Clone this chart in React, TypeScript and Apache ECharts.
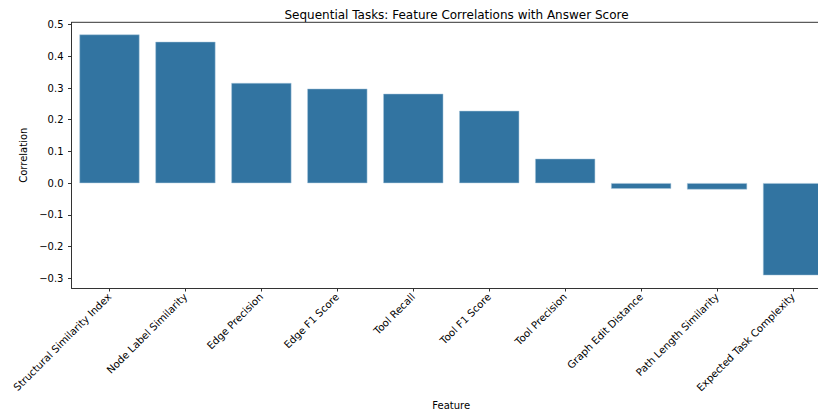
import React, { useEffect, useRef } from "react";
import * as echarts from "echarts";

const features = [
  "Structural Similarity Index",
  "Node Label Similarity",
  "Edge Precision",
  "Edge F1 Score",
  "Tool Recall",
  "Tool F1 Score",
  "Tool Precision",
  "Graph Edit Distance",
  "Path Length Similarity",
  "Expected Task Complexity",
];
const correlations = [0.469, 0.446, 0.316, 0.298, 0.282, 0.228, 0.077, -0.018, -0.02, -0.291];
const yMin = -0.331;
const yMax = 0.5075;

const FONT = "DejaVu Sans";
const fmt = (v: number) => (v < 0 ? "\u2212" : "") + Math.abs(v).toFixed(1);

export default function App() {
  const ref = useRef<HTMLDivElement>(null);
  useEffect(() => {
    if (!ref.current) return;
    const chart = echarts.init(ref.current, null, { renderer: "svg" });
    chart.setOption({
      animation: false,
      backgroundColor: "#ffffff",
      title: {
        text: "Sequential Tasks: Feature Correlations with Answer Score",
        left: 451.5,
        top: 4,
        textAlign: "center",
        textStyle: { fontFamily: FONT, fontSize: 12, fontWeight: "normal", color: "#000" },
      },
      grid: { left: 71.5, right: 1, top: 22.3, bottom: 124.3, containLabel: false },
      xAxis: {
        type: "category",
        data: features,
        name: "Feature",
        nameLocation: "middle",
        nameGap: 104,
        nameTextStyle: { fontFamily: FONT, fontSize: 10, color: "#000" },
        axisLine: { show: true, onZero: false, lineStyle: { color: "#333", width: 1 } },
        axisTick: { show: true, alignWithLabel: true, length: 3.5, lineStyle: { color: "#333" } },
        axisLabel: {
          rotate: 45,
          margin: 7,
          interval: 0,
          fontFamily: FONT,
          fontSize: 10.2,
          color: "#000",
        },
      },
      yAxis: {
        type: "value",
        min: yMin,
        max: yMax,
        splitNumber: 8,
        name: "Correlation",
        nameLocation: "middle",
        nameGap: 33,
        nameRotate: 90,
        nameTextStyle: { fontFamily: FONT, fontSize: 10, color: "#000" },
        axisLine: { show: true, lineStyle: { color: "#333", width: 1 } },
        axisTick: { show: true, length: 3.5, lineStyle: { color: "#333" } },
        splitLine: { show: false },
        axisLabel: {
          showMinLabel: false,
          showMaxLabel: false,
          margin: 8,
          fontFamily: FONT,
          fontSize: 10,
          color: "#000",
          formatter: fmt,
        },
      },
      graphic: [
        {
          type: "line",
          shape: { x1: 71.5, y1: 22.3, x2: 831, y2: 22.3 },
          style: { stroke: "#333", lineWidth: 1 },
        },
      ],
      series: [
        {
          type: "bar",
          data: correlations,
          barCategoryGap: "21%",
          itemStyle: { color: "#3274a1", borderColor: "#a9c6dd", borderWidth: 0.5 },
        },
      ],
    });
    return () => chart.dispose();
  }, []);
  return (
    <div style={{ position: "fixed", left: 0, top: 0, width: 818, height: 415, overflow: "hidden", background: "#fff" }}>
      <div ref={ref} style={{ width: 832, height: 415 }} />
    </div>
  );
}
